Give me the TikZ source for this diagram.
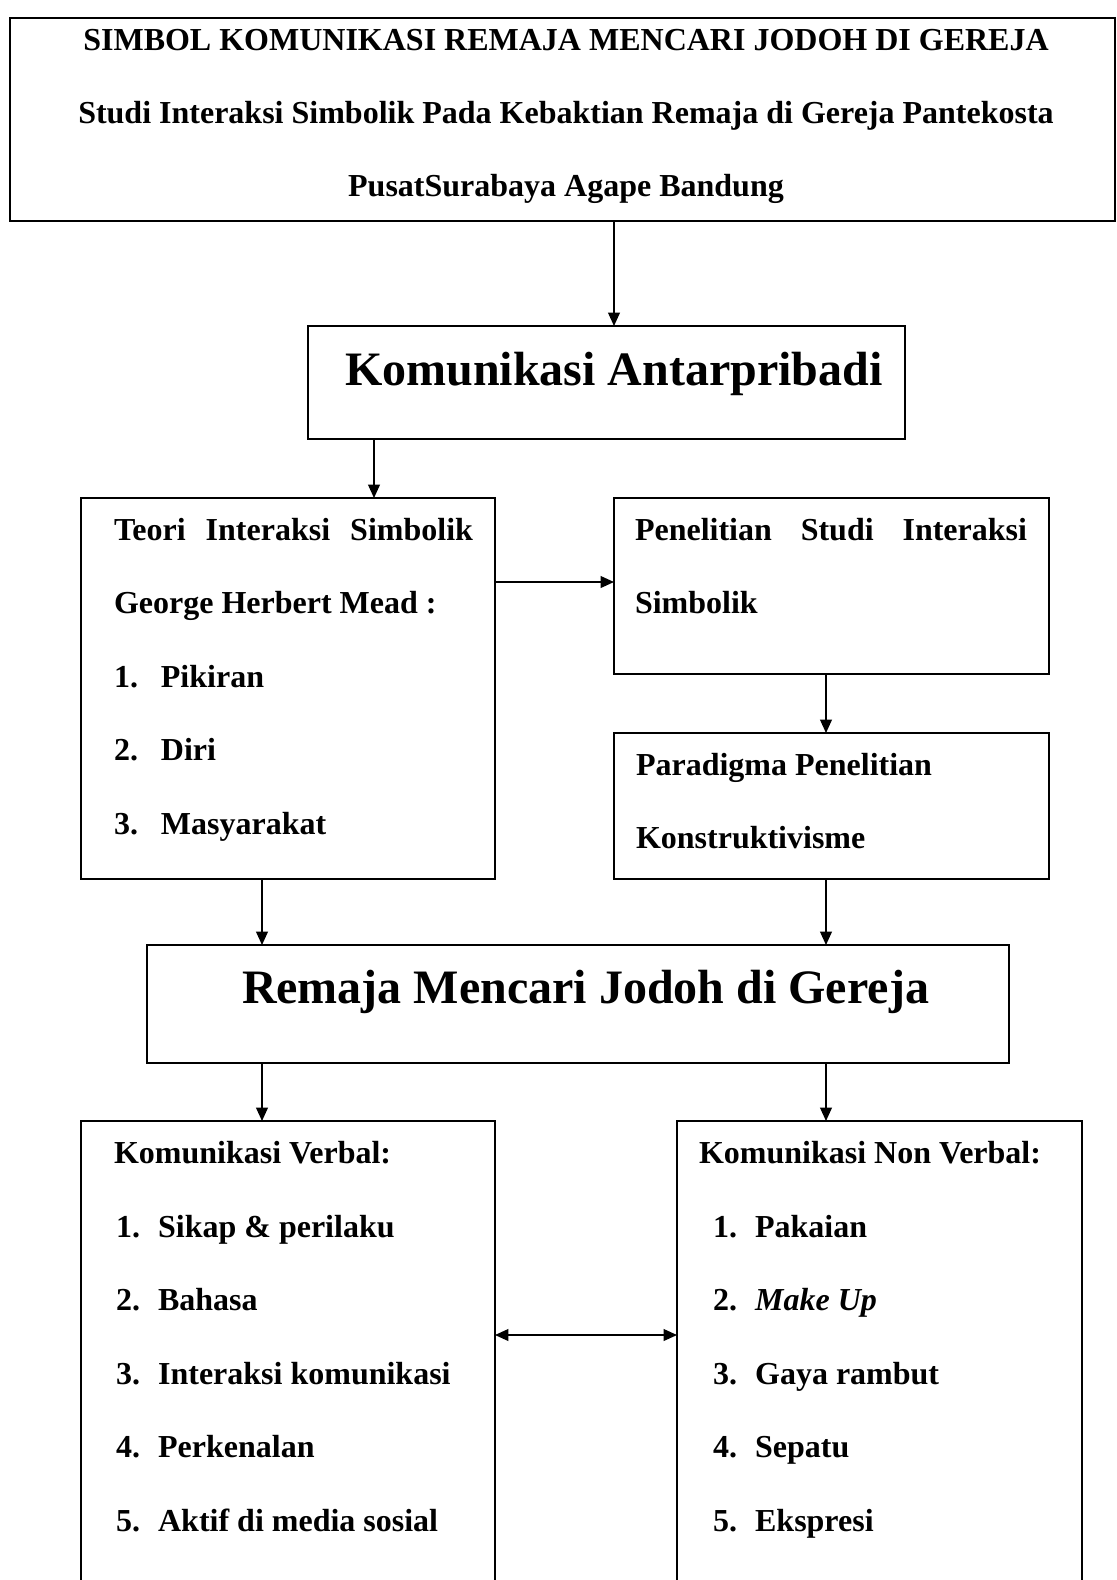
\documentclass[tikz,border=0pt]{standalone}
\usepackage{fontspec}
\setmainfont{Liberation Serif}
\usetikzlibrary{arrows.meta}
\begin{document}
\begin{tikzpicture}[x=0.375pt,y=0.375pt]
\tikzstyle{every node}+=[inner sep=0pt, outer sep=0pt, font=\bfseries\fontsize{12}{14}\selectfont]
\tikzstyle{box}=[draw=black, line width=0.65pt, rectangle, anchor=north west]
\tikzstyle{txt}=[anchor=base west]
\tikzstyle{big}=[anchor=base west, font=\bfseries\fontsize{18}{22}\selectfont]
\tikzstyle{arr}=[black, line width=0.6pt, -{Triangle[length=5pt,width=4.4pt]}]
\tikzstyle{arrboth}=[black, line width=0.6pt, {Triangle[length=5pt,width=4.4pt]}-{Triangle[length=5pt,width=4.4pt]}]
\useasboundingbox (0,0) rectangle (1116,-1580);
\clip (0,0) rectangle (1116,-1580);
% boxes
\node [box, minimum width=414.4pt, minimum height=76.1pt] (title) at (10,-18) {};
\node [box, minimum width=223.9pt, minimum height=42.4pt] (antar) at (308,-326) {};
\node [box, minimum width=155.25pt, minimum height=142.9pt] (teori) at (81,-498) {};
\node [box, minimum width=163.1pt, minimum height=66pt] (penel) at (614,-498) {};
\node [box, minimum width=163.1pt, minimum height=54.75pt] (parad) at (614,-733) {};
\node [box, minimum width=323.25pt, minimum height=44.25pt] (remaja) at (147,-945) {};
\node [box, minimum width=155.25pt, minimum height=190pt] (verbal) at (81,-1121) {};
\node [box, minimum width=151.9pt, minimum height=190pt] (nonverb) at (677,-1121) {};
% title
\node [anchor=base] (title1) at (566,-50) {SIMBOL KOMUNIKASI REMAJA MENCARI JODOH DI GEREJA};
\node [anchor=base] (title2) at (566,-123) {Studi Interaksi Simbolik Pada Kebaktian Remaja di Gereja Pantekosta};
\node [anchor=base] (title3) at (566,-196) {PusatSurabaya Agape Bandung};
% headings
\node [big] (antarlbl) at (345,-385) {Komunikasi Antarpribadi};
\node [big] (remajalbl) at (242,-1003) {Remaja Mencari Jodoh di Gereja};
% teori
\node [txt] (teori1) at (114,-540) {\makebox[134.6pt][s]{Teori Interaksi Simbolik}};
\node [txt] (teori2) at (114,-613) {George Herbert Mead :};
\node [txt] (teori3) at (114,-687) {\makebox[17.6pt][l]{1.}Pikiran};
\node [txt] (teori4) at (114,-760) {\makebox[17.6pt][l]{2.}Diri};
\node [txt] (teori5) at (114,-834) {\makebox[17.6pt][l]{3.}Masyarakat};
% penelitian, paradigma
\node [txt] (penel1) at (635,-540) {\makebox[147pt][s]{Penelitian Studi Interaksi}};
\node [txt] (penel2) at (635,-613) {Simbolik};
\node [txt] (parad1) at (636,-775) {Paradigma Penelitian};
\node [txt] (parad2) at (636,-848) {Konstruktivisme};
% verbal
\node [txt] (verb0) at (114,-1163) {Komunikasi Verbal:};
\node [txt] (verb1) at (116,-1237) {\makebox[15.8pt][l]{1.}Sikap \& perilaku};
\node [txt] (verb2) at (116,-1310) {\makebox[15.8pt][l]{2.}Bahasa};
\node [txt] (verb3) at (116,-1384) {\makebox[15.8pt][l]{3.}Interaksi komunikasi};
\node [txt] (verb4) at (116,-1457) {\makebox[15.8pt][l]{4.}Perkenalan};
\node [txt] (verb5) at (116,-1531) {\makebox[15.8pt][l]{5.}Aktif di media sosial};
% non verbal
\node [txt] (nonv0) at (699,-1163) {Komunikasi Non Verbal:};
\node [txt] (nonv1) at (713,-1237) {\makebox[15.8pt][l]{1.}Pakaian};
\node [txt] (nonv2) at (713,-1310) {\makebox[15.8pt][l]{2.}\textit{Make Up}};
\node [txt] (nonv3) at (713,-1384) {\makebox[15.8pt][l]{3.}Gaya rambut};
\node [txt] (nonv4) at (713,-1457) {\makebox[15.8pt][l]{4.}Sepatu};
\node [txt] (nonv5) at (713,-1531) {\makebox[15.8pt][l]{5.}Ekspresi};
% arrows
\coordinate (c1) at (614,0);
\coordinate (c2) at (374,0);
\coordinate (c3) at (826,0);
\coordinate (c4) at (262,0);
\coordinate (r1) at (0,-582);
\coordinate (r2) at (0,-1335);
\draw [arr] (title.south -| c1) -- (antar.north -| c1);
\draw [arr] (antar.south -| c2) -- (teori.north -| c2);
\draw [arr] (teori.east |- r1) -- (penel.west |- r1);
\draw [arr] (penel.south -| c3) -- (parad.north -| c3);
\draw [arr] (parad.south -| c3) -- (remaja.north -| c3);
\draw [arr] (teori.south -| c4) -- (remaja.north -| c4);
\draw [arr] (remaja.south -| c4) -- (verbal.north -| c4);
\draw [arr] (remaja.south -| c3) -- (nonverb.north -| c3);
\draw [arrboth] (verbal.east |- r2) -- (nonverb.west |- r2);
\end{tikzpicture}
\end{document}
